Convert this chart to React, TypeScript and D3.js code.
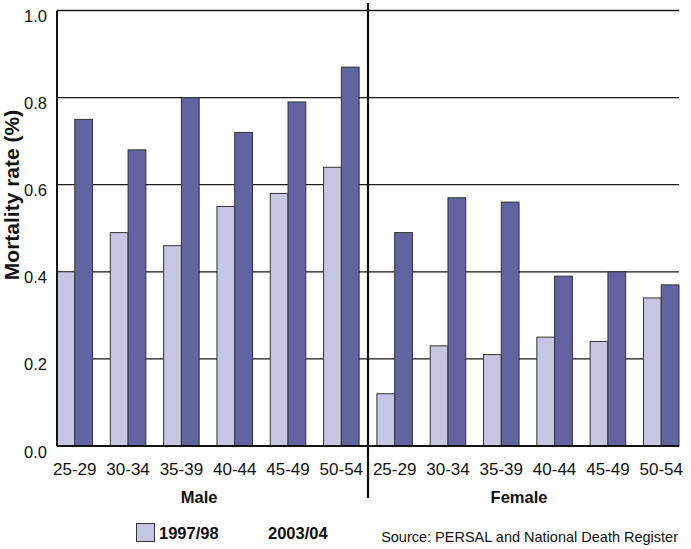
import React from 'react';
import * as d3 from 'd3';

// Mortality rate (%) by age group and sex
const ageGroups = ['25-29', '30-34', '35-39', '40-44', '45-49', '50-54'];
const sexes = ['Male', 'Female'];
const seriesNames = ['1997/98', '2003/04'];
const male1997 = [0.40, 0.49, 0.46, 0.55, 0.58, 0.64];
const male2003 = [0.75, 0.68, 0.80, 0.72, 0.79, 0.87];
const female1997 = [0.12, 0.23, 0.21, 0.25, 0.24, 0.34];
const female2003 = [0.49, 0.57, 0.56, 0.39, 0.40, 0.37];
const yTicks = [0, 0.2, 0.4, 0.6, 0.8, 1.0];
const sourceNote = 'Source: PERSAL and National Death Register';

const width = 691;
const height = 549;
const margin = { left: 57, right: 12, top: 10.5, bottom: 103 };
const colors = ['#c6c6e2', '#6363a1'];
const font = 'Arial, "Liberation Sans", sans-serif';

interface Row {
  key: string;
  sex: string;
  age: string;
  values: number[];
}

const rows: Row[] = [];
sexes.forEach((sex, si) => {
  const a = si === 0 ? male1997 : female1997;
  const b = si === 0 ? male2003 : female2003;
  ageGroups.forEach((age, i) => {
    rows.push({ key: `${sex}-${age}`, sex, age, values: [a[i], b[i]] });
  });
});

const App: React.FC = () => {
  const x = d3.scaleBand<string>()
    .domain(rows.map((r) => r.key))
    .range([margin.left, width - margin.right])
    .paddingInner(1 / 3)
    .paddingOuter(0);

  const xInner = d3.scaleBand<number>()
    .domain([0, 1])
    .range([0, x.bandwidth()]);

  const y = d3.scaleLinear()
    .domain([0, 1])
    .range([height - margin.bottom, margin.top]);

  const x0 = margin.left;
  const x1 = width - margin.right;

  // divider sits in the middle of the gap between the two sexes
  const lastMale = rows[ageGroups.length - 1].key;
  const firstFemale = rows[ageGroups.length].key;
  const dividerX = ((x(lastMale) ?? 0) + x.bandwidth() + (x(firstFemale) ?? 0)) / 2;

  const maleLabelX = (x0 + (x(lastMale) ?? 0) + x.bandwidth() / 2) / 2;
  const lastFemale = rows[rows.length - 1].key;
  const femaleLabelX = ((x(firstFemale) ?? 0) + (x(lastFemale) ?? 0) + x.bandwidth() / 2) / 2;

  return (
    <svg
      width={width}
      height={height}
      style={{ position: 'absolute', left: 0, top: 0, background: '#fff' }}
      fontFamily={font}
    >
      {/* grid lines */}
      {yTicks.filter((t) => t > 0).map((t) => (
        <line key={t} x1={x0} x2={x1} y1={y(t)} y2={y(t)} stroke="#1a1a1a" strokeWidth={1.3} />
      ))}

      {/* bars */}
      {rows.map((r) => (
        <g key={r.key} transform={`translate(${x(r.key)},0)`}>
          {r.values.map((v, i) => (
            <rect
              key={i}
              x={xInner(i)}
              y={y(v)}
              width={xInner.bandwidth()}
              height={y(0) - y(v)}
              fill={colors[i]}
              stroke="#333"
              strokeWidth={1}
            />
          ))}
        </g>
      ))}

      {/* axes */}
      <line x1={x0} x2={x1} y1={y(0)} y2={y(0)} stroke="#111" strokeWidth={2} />
      <line x1={x0} x2={x0} y1={y(1)} y2={y(0)} stroke="#111" strokeWidth={2} />

      {yTicks.map((t) => (
        <text key={t} x={x0 - 10} y={y(t) + 11.5} textAnchor="end" fontSize={16.5} fill="#111">
          {d3.format('.1f')(t)}
        </text>
      ))}

      {rows.map((r) => (
        <text
          key={r.key}
          x={(x(r.key) ?? 0) + x.bandwidth() / 2}
          y={475}
          textAnchor="middle"
          fontSize={17}
          fill="#111"
        >
          {r.age}
        </text>
      ))}

      <line x1={dividerX} x2={dividerX} y1={3} y2={498} stroke="#111" strokeWidth={2.2} />

      <text x={maleLabelX} y={503} textAnchor="middle" fontSize={16.5} fontWeight="bold" fill="#111">
        {sexes[0]}
      </text>
      <text x={femaleLabelX} y={503} textAnchor="middle" fontSize={16.5} fontWeight="bold" fill="#111">
        {sexes[1]}
      </text>

      <text
        transform="translate(19,195) rotate(-90)"
        textAnchor="middle"
        fontSize={21}
        fontWeight="bold"
        fill="#111"
      >
        Mortality rate (%)
      </text>

      {/* legend (second swatch is absent in the original) */}
      <rect x={136.5} y={523.5} width={18} height={18} fill={colors[0]} stroke="#333" strokeWidth={1} />
      <text x={159} y={539} fontSize={16.5} fontWeight="bold" fill="#111">{seriesNames[0]}</text>
      <text x={268} y={539} fontSize={16.5} fontWeight="bold" fill="#111">{seriesNames[1]}</text>

      <text x={678} y={542} textAnchor="end" fontSize={14.5} fill="#111">{sourceNote}</text>
    </svg>
  );
};

export default App;
